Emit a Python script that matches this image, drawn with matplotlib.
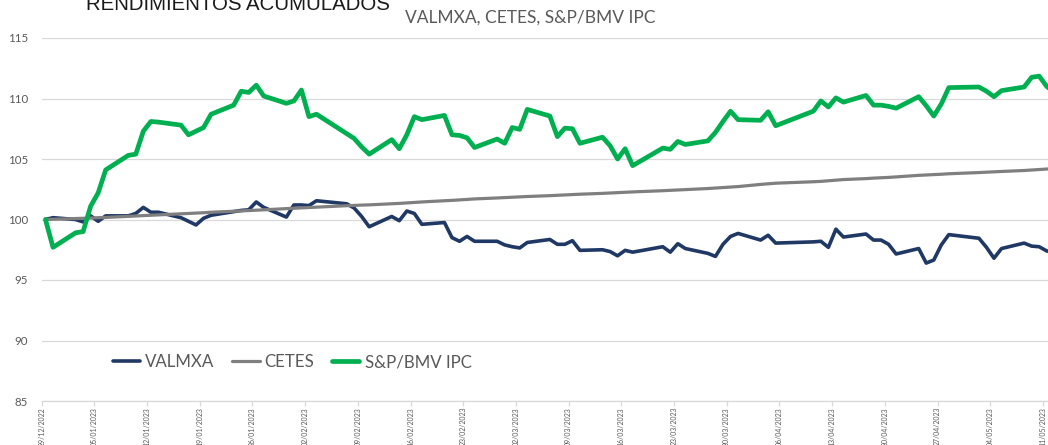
import pandas as pd
import matplotlib.pyplot as plt
import matplotlib.dates as mdates

plt.rcParams['font.family'] = ['Lato', 'DejaVu Sans']

# trading days shown (weekends and market holidays missing)
holidays = ['2023-02-06', '2023-03-20', '2023-04-06', '2023-04-07', '2023-05-01']
dates = pd.bdate_range('2022-12-29', '2023-05-12', freq='C', holidays=holidays)
tick_dates = pd.date_range('2022-12-29', '2023-05-11', freq='7D')

valmxa = [100.0, 100.15,
          100.0, 99.8, 100.3, 99.85, 100.3,
          100.3, 100.5, 101.0, 100.6, 100.6,
          100.15, 99.85, 99.55, 100.1, 100.35,
          100.65, 100.75, 100.8, 101.45, 101.0,
          100.2, 101.2, 101.2, 101.15, 101.55,
          101.3, 100.95, 100.25, 99.4,
          100.25, 99.9, 100.7, 100.5, 99.6,
          99.75, 98.5, 98.2, 98.6, 98.2,
          98.2, 97.9, 97.75, 97.65, 98.1,
          98.35, 97.95, 97.95, 98.25, 97.45,
          97.5, 97.35, 97.0, 97.45, 97.3,
          97.75, 97.3, 98.0, 97.6,
          97.2, 96.95, 97.95, 98.6, 98.85,
          98.3, 98.7, 98.05,
          98.15, 98.2, 97.7, 99.2, 98.55,
          98.8, 98.3, 98.3, 97.95, 97.15,
          97.6, 96.4, 96.65, 97.9, 98.75,
          98.45, 97.7, 96.8, 97.6,
          98.05, 97.8, 97.75, 97.4, 97.3]

cetes = [100.0, 100.02,
         100.08, 100.1, 100.12, 100.15, 100.17,
         100.26, 100.29, 100.32, 100.35, 100.38,
         100.47, 100.5, 100.53, 100.56, 100.6,
         100.68, 100.71, 100.74, 100.77, 100.8,
         100.9, 100.93, 100.96, 100.99, 101.02,
         101.14, 101.16, 101.19, 101.21,
         101.3, 101.33, 101.37, 101.41, 101.45,
         101.55, 101.58, 101.62, 101.66, 101.7,
         101.78, 101.81, 101.84, 101.87, 101.9,
         101.97, 102.0, 102.03, 102.06, 102.09,
         102.16, 102.19, 102.22, 102.25, 102.28,
         102.38, 102.41, 102.44, 102.47,
         102.56, 102.6, 102.64, 102.68, 102.72,
         102.9, 102.95, 103.0,
         103.12, 103.15, 103.2, 103.25, 103.3,
         103.38, 103.42, 103.45, 103.48, 103.52,
         103.65, 103.68, 103.71, 103.74, 103.78,
         103.88, 103.91, 103.94, 103.97,
         104.05, 104.09, 104.13, 104.17, 104.2]

sp_bmv_ipc = [100.0, 97.7,
              98.9, 99.0, 101.1, 102.2, 104.1,
              105.3, 105.4, 107.3, 108.1, 108.05,
              107.8, 107.0, 107.3, 107.6, 108.7,
              109.45, 110.6, 110.5, 111.1, 110.2,
              109.6, 109.8, 110.7, 108.5, 108.7,
              107.1, 106.7, 106.0, 105.4,
              106.6, 105.85, 107.0, 108.5, 108.25,
              108.6, 107.0, 106.95, 106.75, 105.95,
              106.65, 106.3, 107.6, 107.45, 109.1,
              108.55, 106.85, 107.55, 107.5, 106.3,
              106.8, 106.1, 105.0, 105.85, 104.45,
              105.9, 105.8, 106.45, 106.2,
              106.5, 107.2, 108.1, 108.95, 108.25,
              108.2, 108.9, 107.75,
              108.95, 109.8, 109.3, 110.05, 109.7,
              110.25, 109.45, 109.45, 109.35, 109.2,
              110.15, 109.4, 108.55, 109.55, 110.9,
              110.95, 110.6, 110.15, 110.65,
              110.95, 111.75, 111.85, 111.0, 110.5]

series = [('VALMXA', valmxa, '#203864', 2.6),
          ('CETES', cetes, '#7f7f7f', 2.3),
          ('S&P/BMV IPC', sp_bmv_ipc, '#00b050', 3.4)]

W, H = 1048, 445
fig = plt.figure(figsize=(W / 100, H / 100), dpi=100)
ax = fig.add_axes([41.7 / W, 44 / H, 1 - 41.7 / W, 363 / H])

x = dates + pd.Timedelta(hours=12)
for name, vals, col, lw in series:
    ax.plot(x, vals, color=col, lw=lw, label=name,
            solid_joinstyle='round', solid_capstyle='round')

start = pd.Timestamp('2022-12-29')
ax.set_xlim(start, start + pd.Timedelta(days=(W - 41.7) / 7.528))
ax.set_ylim(85, 115)
ax.set_yticks(range(85, 116, 5))
ax.grid(axis='y', color='#d9d9d9', lw=0.9)
ax.set_axisbelow(True)

ax.set_xticks(tick_dates)
ax.xaxis.set_major_formatter(mdates.DateFormatter('%d/%m/%Y'))
ax.tick_params(axis='x', direction='out', length=3.5, width=0.9, color='#d9d9d9',
               labelsize=5.0, labelcolor='#595959', labelrotation=90, pad=0.8)
ax.tick_params(axis='y', length=0, labelsize=8.3, labelcolor='#595959', pad=10)
for s in ['top', 'right', 'left']:
    ax.spines[s].set_visible(False)
ax.spines['bottom'].set_color('#d9d9d9')
ax.spines['bottom'].set_linewidth(0.9)

ax.legend(loc='center left', bbox_to_anchor=(113 / W, 1 - 362 / H),
          bbox_transform=fig.transFigure, ncol=3, frameon=False,
          fontsize=12.2, labelcolor='#595959', borderpad=0, borderaxespad=0,
          handlelength=1.6, handletextpad=0.3, columnspacing=1.06)

fig.text(530 / W, 1 - 18 / H, 'VALMXA, CETES, S&P/BMV IPC', ha='center', va='center',
         fontsize=12.5, color='#595959')
fig.text(86 / W, 1 - 10 / H, 'RENDIMIENTOS ACUMULADOS', ha='left', va='baseline',
         fontsize=14.7, color='#1a1a1a', family=['Liberation Sans', 'DejaVu Sans'])

fig.savefig('out.png', dpi=100)
